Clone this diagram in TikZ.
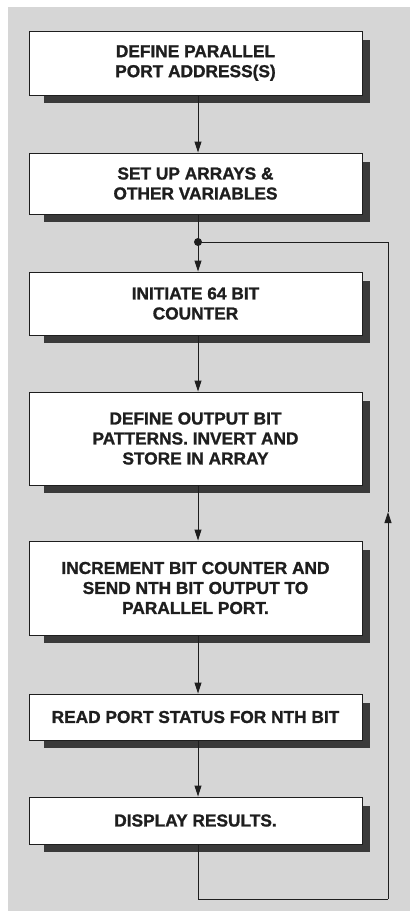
\documentclass[tikz,border=0pt]{standalone}
\usepackage{fontspec}
\setmainfont{Liberation Sans}[FakeBold=1.2]
\usetikzlibrary{arrows.meta}
\definecolor{panel}{RGB}{214,214,214}
\definecolor{shad}{RGB}{58,58,58}
\definecolor{ink}{RGB}{30,30,30}
\pgfdeclarelayer{bglayer}
\pgfdeclarelayer{shadlayer}
\pgfsetlayers{bglayer,shadlayer,main}
\tikzset{
  box/.style={draw=ink, line width=0.9pt, fill=white, text=ink, align=center,
    minimum width=333pt, inner sep=0pt,
    font=\fontsize{17.3}{20}\selectfont\bfseries},
  arr/.style={draw=ink, line width=0.9pt, -{Triangle[length=11pt,width=7pt]}},
  ln/.style={draw=ink, line width=0.9pt},
}
\newcommand{\boxshadow}[1]{%
  \begin{pgfonlayer}{shadlayer}
    \fill[shad] ([xshift=15pt,yshift=-9pt]#1.north west) rectangle ([xshift=8pt,yshift=-8pt]#1.south east);
  \end{pgfonlayer}}
\begin{document}
\begin{tikzpicture}[x=1pt,y=1pt]
\useasboundingbox (0,0) rectangle (410,-911);
\begin{pgfonlayer}{bglayer}
  \fill[panel] (8,-7) rectangle (410,-911);
\end{pgfonlayer}

\node[box, minimum height=64pt] (b1) at (195.5,-63) {DEFINE PARALLEL\\PORT ADDRESS(S)};
\node[box, minimum height=61pt] (b2) at (195.5,-183.5) {SET UP ARRAYS \&\\OTHER VARIABLES};
\node[box, minimum height=63pt] (b3) at (195.5,-303.5) {INITIATE 64 BIT\\COUNTER};
\node[box, minimum height=93pt] (b4) at (195.5,-438.5) {DEFINE OUTPUT BIT\\PATTERNS. INVERT AND\\STORE IN ARRAY};
\node[box, minimum height=94pt] (b5) at (195.5,-588) {INCREMENT BIT COUNTER AND\\SEND NTH BIT OUTPUT TO\\PARALLEL PORT.};
\node[box, minimum height=46pt] (b6) at (195.5,-717) {READ PORT STATUS FOR NTH BIT};
\node[box, minimum height=47pt] (b7) at (195.5,-820.5) {DISPLAY RESULTS.};

\boxshadow{b1}\boxshadow{b2}\boxshadow{b3}\boxshadow{b4}\boxshadow{b5}\boxshadow{b6}\boxshadow{b7}

\coordinate (dot) at (198,-242);
\coordinate (cbl) at (198,-899);
\coordinate (cbr) at (388,-899);
\coordinate (cmid) at (388,-512);
\coordinate (ctr) at (388,-242);

\draw[arr] ([xshift=2.5pt]b1.south) -- ([xshift=2.5pt]b2.north);
\draw[ln] ([xshift=2.5pt]b2.south) -- (dot);
\draw[arr] (dot) -- ([xshift=2.5pt]b3.north);
\draw[arr] ([xshift=2.5pt]b3.south) -- ([xshift=2.5pt]b4.north);
\draw[arr] ([xshift=2.5pt]b4.south) -- ([xshift=2.5pt]b5.north);
\draw[arr] ([xshift=2.5pt]b5.south) -- ([xshift=2.5pt]b6.north);
\draw[arr] ([xshift=2.5pt]b6.south) -- ([xshift=2.5pt]b7.north);
\draw[ln] ([xshift=2.5pt]b7.south) -- (cbl) -- (cbr);
\draw[arr] (cbr) -- (cmid);
\draw[ln] (cmid) -- (ctr) -- (dot);
\fill[ink] (dot) circle (4pt);
\end{tikzpicture}
\end{document}
